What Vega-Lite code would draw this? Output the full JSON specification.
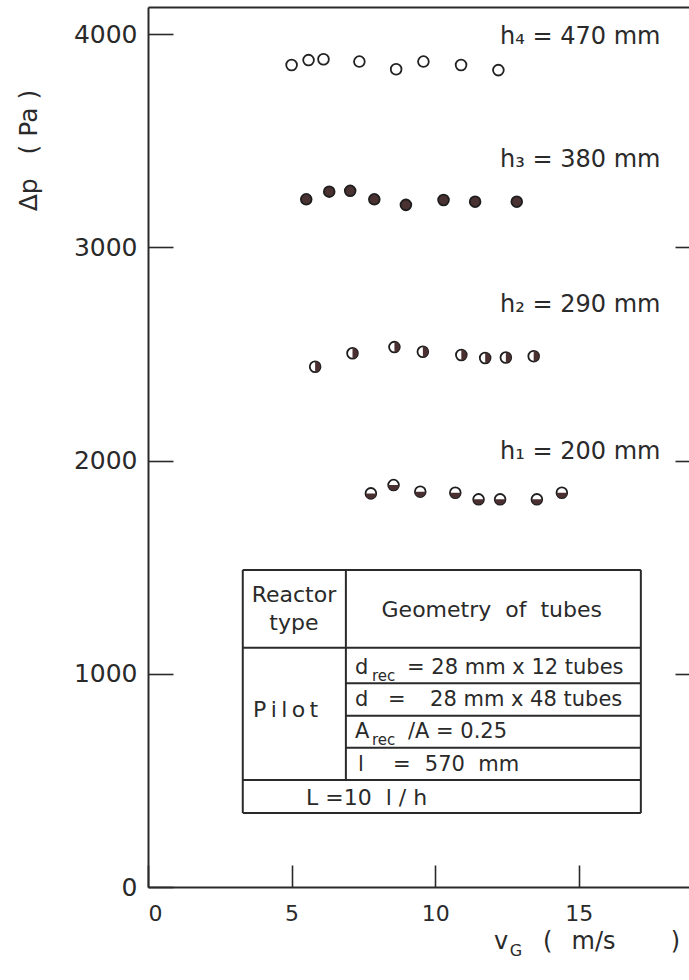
{
  "$schema": "https://vega.github.io/schema/vega-lite/v6.json",
  "width": 541,
  "height": 880,
  "autosize": {"type": "none"},
  "padding": {"left": 148, "top": 7, "right": 0, "bottom": 93},
  "background": "white",
  "config": {
    "view": {"stroke": null},
    "font": "DejaVu Sans",
    "axis": {
      "domainColor": "#2a2a2a",
      "tickColor": "#2a2a2a",
      "labelColor": "#2a2a2a",
      "titleColor": "#2a2a2a",
      "domainWidth": 2,
      "tickWidth": 1.6,
      "grid": false,
      "labelFont": "DejaVu Sans",
      "titleFont": "DejaVu Sans"
    },
    "text": {"font": "DejaVu Sans", "color": "#2a2a2a"}
  },
  "resolve": {"axis": {"x": "independent", "y": "independent"}},
  "datasets": {
    "points": [
      {"series": "h4", "vG": 5.0, "dp": 3855},
      {"series": "h4", "vG": 5.59, "dp": 3878},
      {"series": "h4", "vG": 6.11, "dp": 3882},
      {"series": "h4", "vG": 7.36, "dp": 3871},
      {"series": "h4", "vG": 8.64, "dp": 3835},
      {"series": "h4", "vG": 9.59, "dp": 3871},
      {"series": "h4", "vG": 10.9, "dp": 3855},
      {"series": "h4", "vG": 12.2, "dp": 3831},
      {"series": "h3", "vG": 5.51, "dp": 3225},
      {"series": "h3", "vG": 6.31, "dp": 3261},
      {"series": "h3", "vG": 7.04, "dp": 3265},
      {"series": "h3", "vG": 7.88, "dp": 3225},
      {"series": "h3", "vG": 8.98, "dp": 3199},
      {"series": "h3", "vG": 10.29, "dp": 3222},
      {"series": "h3", "vG": 11.39, "dp": 3214},
      {"series": "h3", "vG": 12.84, "dp": 3214},
      {"series": "h2", "vG": 5.82, "dp": 2440},
      {"series": "h2", "vG": 7.12, "dp": 2503},
      {"series": "h2", "vG": 8.58, "dp": 2532},
      {"series": "h2", "vG": 9.57, "dp": 2510},
      {"series": "h2", "vG": 10.91, "dp": 2495},
      {"series": "h2", "vG": 11.74, "dp": 2481},
      {"series": "h2", "vG": 12.46, "dp": 2483},
      {"series": "h2", "vG": 13.43, "dp": 2489},
      {"series": "h1", "vG": 7.76, "dp": 1846},
      {"series": "h1", "vG": 8.55, "dp": 1885},
      {"series": "h1", "vG": 9.48, "dp": 1854},
      {"series": "h1", "vG": 10.7, "dp": 1849},
      {"series": "h1", "vG": 11.51, "dp": 1818},
      {"series": "h1", "vG": 12.26, "dp": 1818},
      {"series": "h1", "vG": 13.54, "dp": 1818},
      {"series": "h1", "vG": 14.41, "dp": 1849}
    ],
    "labels": [
      {"text": "h₄ = 470 mm", "vG": 12.26, "dp": 3986},
      {"text": "h₃ = 380 mm", "vG": 12.26, "dp": 3409},
      {"text": "h₂ = 290 mm", "vG": 12.26, "dp": 2729},
      {"text": "h₁ = 200 mm", "vG": 12.26, "dp": 2040}
    ],
    "tableLines": [
      {"vG": 3.3, "dp": 1487, "vG2": 17.16, "dp2": 1487},
      {"vG": 3.3, "dp": 1122, "vG2": 17.16, "dp2": 1122},
      {"vG": 6.89, "dp": 955, "vG2": 17.16, "dp2": 955},
      {"vG": 6.89, "dp": 803, "vG2": 17.16, "dp2": 803},
      {"vG": 6.89, "dp": 653, "vG2": 17.16, "dp2": 653},
      {"vG": 3.3, "dp": 502, "vG2": 17.16, "dp2": 502},
      {"vG": 3.3, "dp": 347, "vG2": 17.16, "dp2": 347},
      {"vG": 3.3, "dp": 347, "vG2": 3.3, "dp2": 1487},
      {"vG": 17.16, "dp": 347, "vG2": 17.16, "dp2": 1487},
      {"vG": 6.89, "dp": 502, "vG2": 6.89, "dp2": 1487}
    ],
    "tableCenter": [
      {"text": "Reactor", "vG": 5.08, "dp": 1369},
      {"text": "type", "vG": 5.08, "dp": 1238},
      {"text": "Geometry\u00a0\u00a0of\u00a0\u00a0tubes", "vG": 11.97, "dp": 1299},
      {"text": "P\u2009i\u2009l\u2009o\u2009t", "vG": 4.79, "dp": 830},
      {"text": "L\u00a0=10\u00a0\u00a0l\u00a0/\u00a0h", "vG": 7.61, "dp": 417}
    ],
    "tableLeft": [
      {"text": "d", "vG": 7.21, "dp": 1027},
      {"text": "= 28 mm x 12 tubes", "vG": 9.02, "dp": 1027},
      {"text": "d", "vG": 7.21, "dp": 877},
      {"text": "=", "vG": 8.36, "dp": 877},
      {"text": "28 mm x 48 tubes", "vG": 9.82, "dp": 877},
      {"text": "A", "vG": 7.21, "dp": 727},
      {"text": "/A = 0.25", "vG": 9.05, "dp": 727},
      {"text": "l", "vG": 7.31, "dp": 572},
      {"text": "=", "vG": 8.53, "dp": 572},
      {"text": "570\u00a0\u00a0mm", "vG": 9.64, "dp": 572}
    ],
    "tableSub": [
      {"text": "rec", "vG": 7.8, "dp": 990},
      {"text": "rec", "vG": 7.8, "dp": 690}
    ],
    "xTitle": [
      {"text": "v", "vG": 12.05, "dp": -258},
      {"text": "(", "vG": 13.75, "dp": -258},
      {"text": "m/s", "vG": 14.75, "dp": -258},
      {"text": ")", "vG": 18.2, "dp": -258}
    ],
    "xTitleSub": [
      {"text": "G", "vG": 12.6, "dp": -300}
    ]
  },
  "layer": [
    {
      "data": {"name": "points"},
      "transform": [{"filter": "datum.series === 'h4'"}],
      "mark": {"type": "point", "shape": "circle", "filled": true, "fill": "white", "stroke": "#222222", "strokeWidth": 1.8, "size": 115, "opacity": 1},
      "encoding": {
        "x": {
          "field": "vG", "type": "quantitative",
          "scale": {"domain": [0, 18.837], "nice": false, "zero": false},
          "axis": {"orient": "bottom", "values": [0, 5, 10, 15], "format": "d", "tickSize": -22, "labelFontSize": 22, "labelPadding": 38, "title": null}
        },
        "y": {
          "field": "dp", "type": "quantitative",
          "scale": {"domain": [0, 4127], "nice": false, "zero": false},
          "axis": {"orient": "left", "values": [0, 1000, 2000, 3000, 4000], "format": "d", "tickSize": -25, "labelFontSize": 25, "labelPadding": 36, "title": "Δp\u00a0\u00a0\u00a0(\u00a0Pa\u00a0)", "titleFontSize": 25, "titleFontWeight": "normal", "titleX": -120, "titleY": 143, "titleAngle": -90, "titleAlign": "center", "titleBaseline": "middle"}
        }
      }
    },
    {
      "data": {"name": "points"},
      "mark": {"type": "point", "opacity": 0},
      "encoding": {
        "x": {"field": "vG", "type": "quantitative", "axis": {"orient": "top", "ticks": false, "labels": false, "title": null, "domain": true}},
        "y": {"field": "dp", "type": "quantitative", "axis": {"orient": "right", "values": [1000, 2000, 3000], "tickSize": -14, "labels": false, "domain": false, "title": null}}
      }
    },
    {
      "data": {"name": "points"},
      "transform": [{"filter": "datum.series === 'h3'"}],
      "mark": {"type": "point", "shape": "circle", "filled": true, "fill": "#4a3232", "stroke": "#1e1e1e", "strokeWidth": 1.8, "size": 115, "opacity": 1},
      "encoding": {
        "x": {"field": "vG", "type": "quantitative", "axis": null},
        "y": {"field": "dp", "type": "quantitative", "axis": null}
      }
    },
    {
      "data": {"name": "points"},
      "transform": [{"filter": "datum.series === 'h2' || datum.series === 'h1'"}],
      "mark": {"type": "point", "shape": "circle", "filled": true, "fill": "white", "stroke": "#1e1e1e", "strokeWidth": 1.8, "size": 115, "opacity": 1},
      "encoding": {
        "x": {"field": "vG", "type": "quantitative", "axis": null},
        "y": {"field": "dp", "type": "quantitative", "axis": null}
      }
    },
    {
      "data": {"name": "points"},
      "transform": [{"filter": "datum.series === 'h2'"}],
      "mark": {"type": "point", "shape": "M0,-1A1,1,0,0,1,0,1Z", "filled": true, "fill": "#4a3030", "strokeWidth": 0, "size": 110, "opacity": 1},
      "encoding": {
        "x": {"field": "vG", "type": "quantitative", "axis": null},
        "y": {"field": "dp", "type": "quantitative", "axis": null}
      }
    },
    {
      "data": {"name": "points"},
      "transform": [{"filter": "datum.series === 'h1'"}],
      "mark": {"type": "point", "shape": "M-1,0A1,1,0,0,0,1,0Z", "filled": true, "fill": "#4a3030", "strokeWidth": 0, "size": 110, "opacity": 1},
      "encoding": {
        "x": {"field": "vG", "type": "quantitative", "axis": null},
        "y": {"field": "dp", "type": "quantitative", "axis": null}
      }
    },
    {
      "data": {"name": "labels"},
      "mark": {"type": "text", "align": "left", "baseline": "middle", "fontSize": 24},
      "encoding": {
        "x": {"field": "vG", "type": "quantitative", "axis": null},
        "y": {"field": "dp", "type": "quantitative", "axis": null},
        "text": {"field": "text"}
      }
    },
    {
      "data": {"name": "tableLines"},
      "mark": {"type": "rule", "color": "#2a2a2a", "strokeWidth": 2},
      "encoding": {
        "x": {"field": "vG", "type": "quantitative", "axis": null},
        "y": {"field": "dp", "type": "quantitative", "axis": null},
        "x2": {"field": "vG2"},
        "y2": {"field": "dp2"}
      }
    },
    {
      "data": {"name": "tableCenter"},
      "mark": {"type": "text", "align": "center", "baseline": "middle", "fontSize": 22},
      "encoding": {
        "x": {"field": "vG", "type": "quantitative", "axis": null},
        "y": {"field": "dp", "type": "quantitative", "axis": null},
        "text": {"field": "text"}
      }
    },
    {
      "data": {"name": "tableLeft"},
      "mark": {"type": "text", "align": "left", "baseline": "middle", "fontSize": 21},
      "encoding": {
        "x": {"field": "vG", "type": "quantitative", "axis": null},
        "y": {"field": "dp", "type": "quantitative", "axis": null},
        "text": {"field": "text"}
      }
    },
    {
      "data": {"name": "tableSub"},
      "mark": {"type": "text", "align": "left", "baseline": "middle", "fontSize": 15},
      "encoding": {
        "x": {"field": "vG", "type": "quantitative", "axis": null},
        "y": {"field": "dp", "type": "quantitative", "axis": null},
        "text": {"field": "text"}
      }
    },
    {
      "data": {"name": "xTitle"},
      "mark": {"type": "text", "align": "left", "baseline": "middle", "fontSize": 24},
      "encoding": {
        "x": {"field": "vG", "type": "quantitative", "axis": null},
        "y": {"field": "dp", "type": "quantitative", "axis": null},
        "text": {"field": "text"}
      }
    },
    {
      "data": {"name": "xTitleSub"},
      "mark": {"type": "text", "align": "left", "baseline": "middle", "fontSize": 16},
      "encoding": {
        "x": {"field": "vG", "type": "quantitative", "axis": null},
        "y": {"field": "dp", "type": "quantitative", "axis": null},
        "text": {"field": "text"}
      }
    }
  ]
}
